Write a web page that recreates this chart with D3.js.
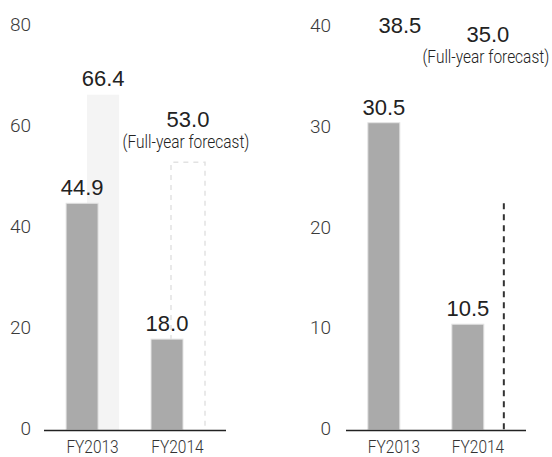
<!DOCTYPE html>
<html>
<head>
<meta charset="utf-8">
<script src="https://cdn.jsdelivr.net/npm/d3@7/dist/d3.min.js"></script>
<style>
  html, body { margin: 0; padding: 0; background: #fff; }
  svg { display: block; }
  .narrow { font-family: Roboto, "Liberation Sans", Arial, sans-serif; font-weight: 300; }
  .tick { font-family: Roboto, "Liberation Sans", sans-serif; font-weight: 300; }
  .val { font-family: "Liberation Sans", Arial, sans-serif; }
</style>
</head>
<body>
<svg id="chart" width="552" height="457"></svg>
<script>
// ---- data ----
const categories = ["FY2013", "FY2014"];
const leftActual = [44.9, 18.0];
const leftFullYear = [66.4, 53.0];      // FY2013 full year, FY2014 full-year forecast
const leftTicks = [0, 20, 40, 60, 80];
const rightActual = [30.5, 10.5];
const rightFullYear = [38.5, 35.0];     // FY2013 full year, FY2014 full-year forecast
const rightTicks = [0, 10, 20, 30, 40];
const rightForecastEdge = 22.5;         // visible dashed edge height of FY2014 forecast
const forecastNote = "(Full-year forecast)";

const svg = d3.select("#chart");
const NARROW = 0.86;

function narrowText(sel, x, y) {
  return sel.attr("class", "narrow")
    .attr("transform", `translate(${x},${y}) scale(${NARROW},1)`);
}

function drawChart(cfg) {
  const g = svg.append("g");
  const y = d3.scaleLinear().domain(cfg.domain).range([430, cfg.top]);
  const x = d3.scaleBand().domain(categories).range(cfg.xRange)
    .paddingInner(0.377).paddingOuter(0.26).align(0.5);
  const bw = 32;

  // tick labels
  g.selectAll("text.tick").data(cfg.ticks).join("text")
    .attr("class", "tick")
    .attr("x", cfg.tickX).attr("y", d => y(d) + 5)
    .attr("text-anchor", "end")
    .attr("font-size", 19).attr("fill", "#3a3a3a")
    .text(d => d);

  // secondary (full-year) marks
  cfg.full.forEach((v, i) => {
    const c = categories[i];
    const x0 = x(c) + cfg.secOffset[i];
    if (cfg.secStyle[i] === "fill") {
      g.append("rect").attr("x", x0).attr("y", y(v)).attr("width", bw)
        .attr("height", y(0) - y(v)).attr("fill", "#f4f4f4");
    } else if (cfg.secStyle[i] === "dashbox") {
      g.append("path")
        .attr("d", `M${x0},${y(0)}V${y(v)}H${x0 + bw + 2}V${y(0)}`)
        .attr("fill", "none").attr("stroke", "#e2e2e2")
        .attr("stroke-width", 1.5).attr("stroke-dasharray", "5,5");
    } else if (cfg.secStyle[i] === "edge") {
      g.append("line")
        .attr("x1", x0 + bw).attr("x2", x0 + bw)
        .attr("y1", y(cfg.edge)).attr("y2", y(0))
        .attr("stroke", "#333").attr("stroke-width", 2)
        .attr("stroke-dasharray", "6,5");
    }
    const cx = x0 + bw / 2 + (cfg.secStyle[i] === "dashbox" ? 1 : 0);
    if (i === categories.length - 1) {
      g.append("text").attr("class", "val")
        .attr("x", cx).attr("y", y(v) - 35)
        .attr("text-anchor", "middle").attr("font-size", 22).attr("fill", "#222")
        .text(v.toFixed(1));
      narrowText(g.append("text"), cx - 2, y(v) - 14)
        .attr("text-anchor", "middle").attr("font-size", 18).attr("fill", "#222")
        .text(forecastNote);
    } else {
      g.append("text").attr("class", "val")
        .attr("x", cx).attr("y", y(v) - 9)
        .attr("text-anchor", "middle").attr("font-size", 22).attr("fill", "#222")
        .text(v.toFixed(1));
    }
  });

  // actual bars
  g.selectAll("rect.act").data(cfg.actual).join("rect")
    .attr("class", "act")
    .attr("x", (d, i) => x(categories[i]))
    .attr("y", d => y(d))
    .attr("width", bw)
    .attr("height", d => y(0) - y(d))
    .attr("fill", "#aaaaaa")
    .attr("stroke", "#e4e4e4").attr("stroke-width", 1);

  g.selectAll("text.actv").data(cfg.actual).join("text")
    .attr("class", "actv val")
    .attr("x", (d, i) => x(categories[i]) + bw / 2)
    .attr("y", d => y(d) - 8)
    .attr("text-anchor", "middle").attr("font-size", 22).attr("fill", "#222")
    .text(d => d.toFixed(1));

  // baseline axis
  g.append("line")
    .attr("x1", cfg.xRange[0]).attr("x2", cfg.xRange[1])
    .attr("y1", y(0) + 0.5).attr("y2", y(0) + 0.5)
    .attr("stroke", "#222").attr("stroke-width", 1.5);

  // category labels
  categories.forEach(c => {
    narrowText(g.append("text"), x(c) + x.bandwidth() / 2, 453)
      .attr("text-anchor", "middle").attr("font-size", 18).attr("fill", "#333")
      .text(c);
  });
}

drawChart({
  domain: [0, 80], top: 26, ticks: leftTicks, tickX: 31,
  xRange: [44, 226], actual: leftActual, full: leftFullYear,
  secOffset: [21, 20], secStyle: ["fill", "dashbox"]
});

drawChart({
  domain: [0, 40], top: 27, ticks: rightTicks, tickX: 331,
  xRange: [346, 526], actual: rightActual, full: rightFullYear,
  secOffset: [16, 20], secStyle: ["none", "edge"], edge: rightForecastEdge
});
</script>
</body>
</html>
